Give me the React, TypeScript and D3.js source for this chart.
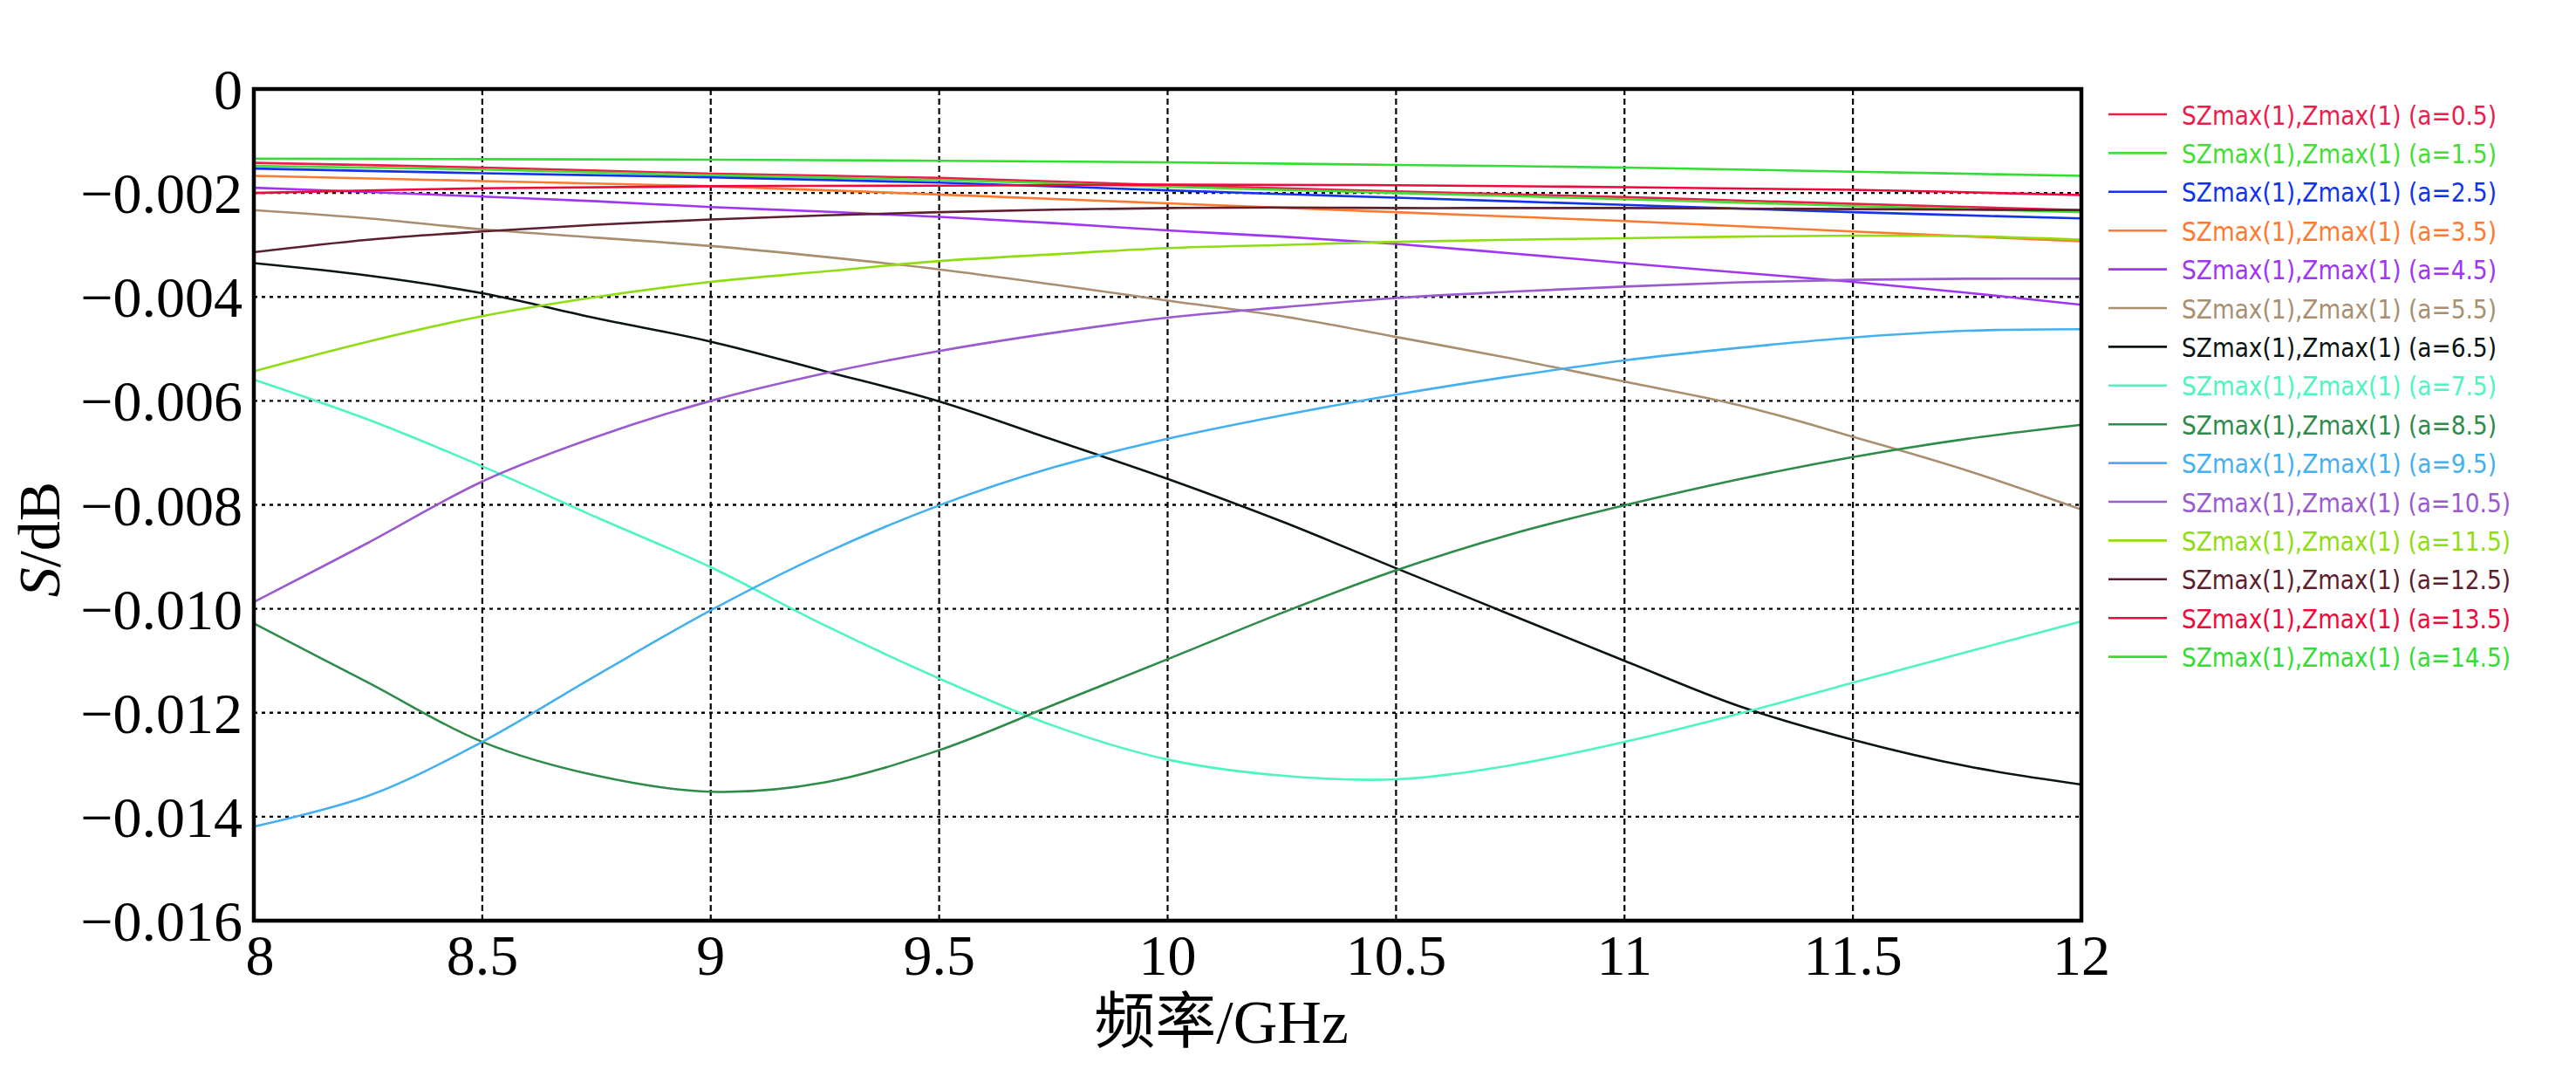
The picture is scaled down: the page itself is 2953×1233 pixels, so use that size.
import * as d3 from 'd3';

const W = 2953;
const H = 1233;

// frequency grids (GHz)
const freqFine = [8, 8.25, 8.5, 8.75, 9, 9.25, 9.5, 9.75, 10, 10.25, 10.5, 10.75, 11, 11.25, 11.5, 11.75, 12];
const freqCoarse = [8, 8.5, 9, 9.5, 10, 10.5, 11, 11.5, 12];

// S/dB values
const s05 = [-0.00142, -0.00151, -0.00163, -0.00171, -0.00185, -0.00197, -0.00208, -0.00221, -0.00233];
const s15 = [-0.00148, -0.00155, -0.00166, -0.00175, -0.00188, -0.002, -0.00212, -0.00225, -0.00237];
const s25 = [-0.00153, -0.00162, -0.0017, -0.0018, -0.00195, -0.00209, -0.00223, -0.00237, -0.00249];
const s35 = [-0.00167, -0.00177, -0.00187, -0.00203, -0.0022, -0.00237, -0.00254, -0.00274, -0.00293];
const s45 = [-0.0019, -0.00198, -0.00207, -0.00216, -0.00227, -0.00236, -0.00246, -0.00258, -0.00272, -0.00284, -0.00298, -0.00316, -0.00335, -0.00353, -0.00371, -0.00392, -0.00415];
const s55 = [-0.00233, -0.00249, -0.0027, -0.00286, -0.00302, -0.00323, -0.00347, -0.00376, -0.00407, -0.00437, -0.00477, -0.00518, -0.00563, -0.00608, -0.00669, -0.00734, -0.00809];
const s65 = [-0.00335, -0.00359, -0.00393, -0.00441, -0.00486, -0.00543, -0.00601, -0.00675, -0.0075, -0.00832, -0.00922, -0.01011, -0.011, -0.01187, -0.01252, -0.01303, -0.01338];
const s75 = [-0.00559, -0.00636, -0.00726, -0.00824, -0.0092, -0.01032, -0.01134, -0.01225, -0.0129, -0.01321, -0.01328, -0.01301, -0.01256, -0.01202, -0.01142, -0.01083, -0.01024];
const s85 = [-0.01028, -0.01142, -0.01256, -0.01321, -0.01352, -0.01334, -0.01272, -0.01185, -0.01097, -0.01008, -0.00926, -0.00857, -0.00801, -0.00751, -0.00708, -0.00673, -0.00646];
const s95 = [-0.01419, -0.0136, -0.01256, -0.01128, -0.01003, -0.00893, -0.00801, -0.00728, -0.00673, -0.00628, -0.00588, -0.00553, -0.00522, -0.00498, -0.00478, -0.00465, -0.00462];
const s105 = [-0.00987, -0.00873, -0.00755, -0.00669, -0.006, -0.00547, -0.00504, -0.00469, -0.0044, -0.0042, -0.00402, -0.0039, -0.0038, -0.00372, -0.00367, -0.00365, -0.00365];
const s115 = [-0.00543, -0.00486, -0.00437, -0.004, -0.00371, -0.00351, -0.00331, -0.00318, -0.00306, -0.003, -0.00294, -0.0029, -0.00287, -0.00284, -0.00282, -0.00283, -0.0029];
const s125 = [-0.00314, -0.0029, -0.00274, -0.00261, -0.00251, -0.00243, -0.00237, -0.00232, -0.00229, -0.00228, -0.00229, -0.00229, -0.00229, -0.0023, -0.00231, -0.00232, -0.00233];
const s135 = [-0.002, -0.00191, -0.00187, -0.00186, -0.00184, -0.00185, -0.00189, -0.00194, -0.00204];
const s145 = [-0.00134, -0.00135, -0.00136, -0.00138, -0.00141, -0.00146, -0.00151, -0.00159, -0.00167];

const seriesNames = [
  'SZmax(1),Zmax(1) (a=0.5)', 'SZmax(1),Zmax(1) (a=1.5)', 'SZmax(1),Zmax(1) (a=2.5)',
  'SZmax(1),Zmax(1) (a=3.5)', 'SZmax(1),Zmax(1) (a=4.5)', 'SZmax(1),Zmax(1) (a=5.5)',
  'SZmax(1),Zmax(1) (a=6.5)', 'SZmax(1),Zmax(1) (a=7.5)', 'SZmax(1),Zmax(1) (a=8.5)',
  'SZmax(1),Zmax(1) (a=9.5)', 'SZmax(1),Zmax(1) (a=10.5)', 'SZmax(1),Zmax(1) (a=11.5)',
  'SZmax(1),Zmax(1) (a=12.5)', 'SZmax(1),Zmax(1) (a=13.5)', 'SZmax(1),Zmax(1) (a=14.5)',
];
const seriesColors = [
  '#ec1c4c', '#44dd33', '#1133ee', '#ff7a30', '#a035f5', '#a88f70', '#0a1414', '#4ef5c0',
  '#2e8b4a', '#45b0f0', '#9a5ad0', '#8fdc10', '#5c1f2e', '#ee0a3c', '#33dd33',
];
const seriesValues = [s05, s15, s25, s35, s45, s55, s65, s75, s85, s95, s105, s115, s125, s135, s145];

const xTicks = [8, 8.5, 9, 9.5, 10, 10.5, 11, 11.5, 12];
const xTickLabels = ['8', '8.5', '9', '9.5', '10', '10.5', '11', '11.5', '12'];
const yTicks = [0, -0.002, -0.004, -0.006, -0.008, -0.01, -0.012, -0.014, -0.016];
const yTickLabels = ['0', '\u22120.002', '\u22120.004', '\u22120.006', '\u22120.008', '\u22120.010', '\u22120.012', '\u22120.014', '\u22120.016'];

const plot = { left: 291, right: 2386, top: 102, bottom: 1055 };

export default function App() {
  const x = d3.scaleLinear().domain([8, 12]).range([plot.left, plot.right]);
  const y = d3.scaleLinear().domain([-0.016, 0]).range([plot.bottom, plot.top]);

  const line = d3
    .line<[number, number]>()
    .x((d) => x(d[0]))
    .y((d) => y(d[1]))
    .curve(d3.curveCatmullRom.alpha(0.5));

  const serif = "'Liberation Serif', 'Times New Roman', serif";
  const legendFont = "'DejaVu Sans Condensed', 'DejaVu Sans', sans-serif";

  return (
    <svg
      width={W}
      height={H}
      style={{ position: 'absolute', left: 0, top: 0, background: '#fff' }}
    >
      <rect x={0} y={0} width={W} height={H} fill="#fff" />

      {/* grid */}
      {xTicks.slice(1, -1).map((t) => (
        <line
          key={'gx' + t}
          x1={x(t)}
          x2={x(t)}
          y1={plot.top}
          y2={plot.bottom}
          stroke="#000"
          strokeWidth={2.2}
          strokeDasharray="7,4"
        />
      ))}
      {yTicks.slice(1, -1).map((t) => (
        <line
          key={'gy' + t}
          x1={plot.left}
          x2={plot.right}
          y1={y(t)}
          y2={y(t)}
          stroke="#000"
          strokeWidth={2.4}
          strokeDasharray="4,5"
        />
      ))}

      {/* curves */}
      <g fill="none" strokeWidth={2.6}>
        {seriesValues.map((vals, i) => {
          const freqs = vals.length === freqFine.length ? freqFine : freqCoarse;
          const pts = vals.map((v, j) => [freqs[j], v] as [number, number]);
          return <path key={seriesNames[i]} d={line(pts) || ''} stroke={seriesColors[i]} />;
        })}
      </g>

      {/* frame */}
      <rect
        x={plot.left}
        y={plot.top}
        width={plot.right - plot.left}
        height={plot.bottom - plot.top}
        fill="none"
        stroke="#000"
        strokeWidth={4.5}
      />

      {/* y ticks */}
      {yTicks.map((t, i) => (
        <text
          key={'yt' + t}
          x={278}
          y={y(t) + 23}
          textAnchor="end"
          fontFamily={serif}
          fontSize={66}
          fill="#000"
        >
          {yTickLabels[i]}
        </text>
      ))}

      {/* x ticks */}
      {xTicks.map((t, i) => (
        <text
          key={'xt' + t}
          x={x(t) + (i === 0 ? 7 : 0)}
          y={1117}
          textAnchor="middle"
          fontFamily={serif}
          fontSize={66}
          fill="#000"
        >
          {xTickLabels[i]}
        </text>
      ))}

      {/* axis titles */}
      <text
        x={1400}
        y={1195}
        textAnchor="middle"
        fontFamily={"'Liberation Serif', 'Noto Sans CJK SC', serif"}
        fontSize={70}
        fill="#000"
      >
        频率/GHz
      </text>
      <text
        transform="translate(68,618) rotate(-90)"
        textAnchor="middle"
        fontFamily={serif}
        fontSize={68}
        fill="#000"
      >
        <tspan fontStyle="italic">S</tspan>/dB
      </text>

      {/* legend */}
      {seriesNames.map((name, i) => {
        const ry = 131 + i * 44.4;
        return (
          <g key={'lg' + name}>
            <line x1={2417} x2={2484} y1={ry} y2={ry} stroke={seriesColors[i]} strokeWidth={2.6} />
            <text
              x={2501}
              y={ry + 11.5}
              fontFamily={legendFont}
              fontSize={31}
              fill={seriesColors[i]}
              textLength={name.length > 24 ? 377 : 361}
              lengthAdjust="spacingAndGlyphs"
            >
              {name}
            </text>
          </g>
        );
      })}
    </svg>
  );
}
